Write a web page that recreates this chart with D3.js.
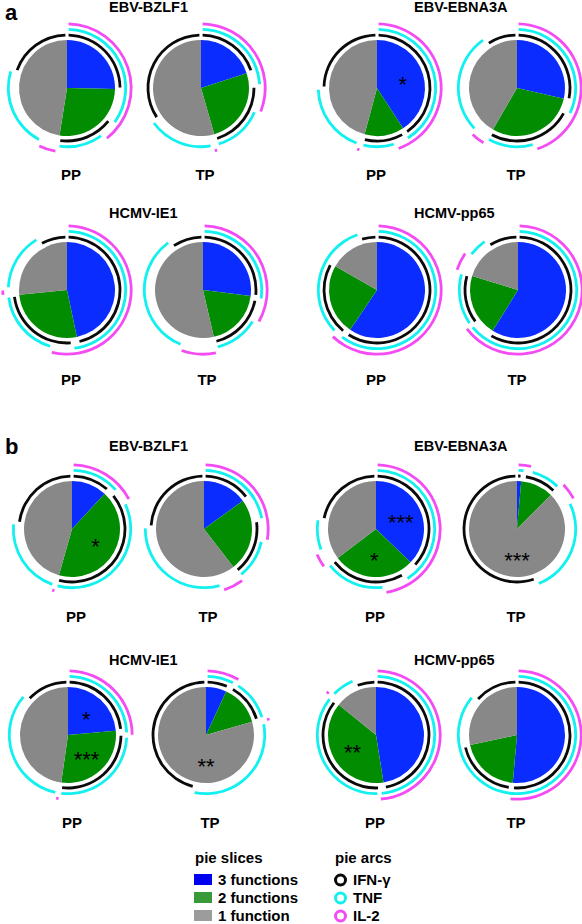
<!DOCTYPE html>
<html><head><meta charset="utf-8">
<script src="https://cdn.jsdelivr.net/npm/d3@7"></script>
<style>body{margin:0;background:#fff} svg{display:block} text{font-family:"Liberation Sans",Arial,sans-serif;font-weight:bold;fill:#000}</style>
</head><body><svg id="c" width="582" height="924"></svg>
<script>
// ---------- data ----------
const panels = ["a", "b"];
const antigens = ["EBV-BZLF1", "EBV-EBNA3A", "HCMV-IE1", "HCMV-pp65"];
const groups = ["PP", "TP"];
const cytokines = ["IFN-γ", "TNF", "IL-2"];
// combinations in pie order (percent of responding cells)
const combos = ["IFN-γ+TNF+IL-2", "TNF+IL-2", "IFN-γ+IL-2", "IFN-γ+TNF", "IL-2", "TNF", "IFN-γ"];
const sliceNames = ["3 functions", "2 functions", "1 function"];

const a_BZLF1_PP  = [25.3, 10.0, 4.4, 12.8, 5.0, 22.5, 20.0];
const a_BZLF1_TP  = [20.0, 4.4, 6.9, 14.2, 1.4, 18.3, 34.7];
const a_EBNA3A_PP = [40.8, 0.8, 3.3, 9.2, 1.1, 19.7, 25.0];
const a_EBNA3A_TP = [28.6, 3.9, 12.8, 13.1, 4.2, 28.1, 9.4];
const a_IE1_PP    = [46.7, 1.7, 5.8, 19.2, 1.9, 16.4, 8.3];
const a_IE1_TP    = [26.9, 0.8, 5.8, 12.8, 9.4, 34.4, 9.7];
const a_pp65_PP   = [59.4, 1.1, 1.9, 20.8, 0.0, 11.7, 5.0];
const a_pp65_TP   = [58.9, 5.6, 0.6, 14.7, 5.3, 5.8, 9.2];
const b_BZLF1_PP  = [11.9, 1.9, 3.9, 36.7, 0.6, 21.7, 23.3];
const b_BZLF1_TP  = [15.0, 7.5, 5.6, 11.4, 5.8, 30.3, 24.4];
const b_EBNA3A_PP = [37.2, 4.2, 6.4, 16.9, 4.2, 8.9, 22.2];
const b_EBNA3A_TP = [1.4, 0.8, 1.7, 8.6, 5.0, 26.9, 55.6];
const b_IE1_PP    = [23.6, 1.1, 0.6, 26.9, 0.8, 33.6, 13.3];
const b_IE1_TP    = [6.9, 1.1, 0.8, 11.7, 1.1, 31.9, 46.4];
const b_pp65_PP   = [47.5, 1.4, 0.3, 36.7, 1.1, 6.9, 6.1];
const b_pp65_TP   = [51.4, 0.6, 0.0, 19.7, 0.0, 14.7, 13.6];

const pieValues = {
  a: [[a_BZLF1_PP, a_BZLF1_TP], [a_EBNA3A_PP, a_EBNA3A_TP], [a_IE1_PP, a_IE1_TP], [a_pp65_PP, a_pp65_TP]],
  b: [[b_BZLF1_PP, b_BZLF1_TP], [b_EBNA3A_PP, b_EBNA3A_TP], [b_IE1_PP, b_IE1_TP], [b_pp65_PP, b_pp65_TP]]
};

// significance marks
const stars = [
  {panel: "a", antigen: "EBV-EBNA3A", group: "PP", slice: "3 functions", text: "*"},
  {panel: "b", antigen: "EBV-BZLF1", group: "PP", slice: "2 functions", text: "*"},
  {panel: "b", antigen: "EBV-EBNA3A", group: "PP", slice: "3 functions", text: "***"},
  {panel: "b", antigen: "EBV-EBNA3A", group: "PP", slice: "2 functions", text: "*"},
  {panel: "b", antigen: "EBV-EBNA3A", group: "TP", slice: "1 function", text: "***"},
  {panel: "b", antigen: "HCMV-IE1", group: "PP", slice: "3 functions", text: "*"},
  {panel: "b", antigen: "HCMV-IE1", group: "PP", slice: "2 functions", text: "***"},
  {panel: "b", antigen: "HCMV-IE1", group: "TP", slice: "1 function", text: "**"},
  {panel: "b", antigen: "HCMV-pp65", group: "PP", slice: "2 functions", text: "**"}
];

// ---------- styles / layout ----------
const sliceColor = d3.scaleOrdinal().domain(sliceNames).range(["#0a2cff", "#028c02", "#888888"]);
const legendSliceColor = d3.scaleOrdinal().domain(sliceNames).range(["#0000f0", "#3a9a3a", "#9c9c9c"]);
const arcColor = d3.scaleOrdinal().domain(cytokines).range(["#0a0a0a", "#12f0f0", "#f44cf4"]);
const ringRadius = d3.scaleOrdinal().domain(cytokines).range([53, 58.7, 64.2]);
const ringWidth = 2.8;
const pieR = 48;
const endPadPx = 1.6;

const layout = {
  a: {pieY: [88, 290], pieX: [[67, 201, 377, 517], [67, 203, 377, 518]], titleY: [12, 218], labelY: [180, 385]},
  b: {pieY: [529, 735], pieX: [[72, 204, 376, 517], [68, 206, 376, 517]], titleY: [451, 665], labelY: [622, 828]}
};
const titleX = [109, 414];
const panelLetterY = {a: 20, b: 454};

const svg = d3.select("#c");
const pieGen = d3.pie().sort(null).value(d => d);

panels.forEach(p => {
  const L = layout[p];
  svg.append("text").attr("x", 5).attr("y", panelLetterY[p]).style("font-size", "22px").text(p);
  antigens.forEach((ag, ai) => {
    const row = Math.floor(ai / 2), col = ai % 2;
    svg.append("text").attr("x", titleX[col]).attr("y", L.titleY[row])
      .style("font-size", "14.5px").text(ag);
    groups.forEach((g, gi) => {
      const vals = pieValues[p][ai][gi];
      const cx = L.pieX[row][col * 2 + gi], cy = L.pieY[row];
      const G = svg.append("g").attr("transform", `translate(${cx},${cy})`);
      // slices
      const sliceVals = [vals[0], d3.sum(vals.slice(1, 4)), d3.sum(vals.slice(4, 7))];
      const sl = pieGen(sliceVals);
      const sliceArc = d3.arc().innerRadius(0).outerRadius(pieR);
      G.selectAll("path.slice").data(sl).enter().append("path")
        .attr("class", "slice").attr("d", sliceArc)
        .attr("fill", (d, i) => sliceColor(sliceNames[i]));
      // arcs
      const ca = pieGen(vals);
      cytokines.forEach(cyt => {
        const runs = [];
        let cur = null;
        ca.forEach((d, i) => {
          const has = combos[i].split("+").includes(cyt);
          if (has && vals[i] > 0) {
            if (cur) cur.end = d.endAngle; else cur = {start: d.startAngle, end: d.endAngle};
          } else if (!has && vals[i] > 0) {
            if (cur) { runs.push(cur); cur = null; }
          }
        });
        if (cur) runs.push(cur);
        const r = ringRadius(cyt);
        const pad = endPadPx / r;
        const arcG = d3.arc().innerRadius(r - ringWidth / 2).outerRadius(r + ringWidth / 2);
        runs.forEach(run => {
          let s = run.start + pad, e = run.end - pad;
          if (e - s < 2.4 / r) { const m = (run.start + run.end) / 2; s = m - 1.2 / r; e = m + 1.2 / r; }
          G.append("path").attr("d", arcG({startAngle: s, endAngle: e})).attr("fill", arcColor(cyt));
        });
      });
      // stars
      stars.filter(s => s.panel === p && s.antigen === ag && s.group === g).forEach(s => {
        const si = sliceNames.indexOf(s.slice);
        const d = sl[si];
        let ang = (d.startAngle + d.endAngle) / 2;
        if (d.endAngle - d.startAngle > Math.PI) ang = Math.PI;
        const rr = 27;
        G.append("text").attr("x", rr * Math.sin(ang)).attr("y", -rr * Math.cos(ang) + 12)
          .attr("text-anchor", "middle").style("font-size", "22px").style("font-weight", "normal")
          .text(s.text);
      });
      // group label
      svg.append("text").attr("x", cx + (col === 0 ? 4 : -1)).attr("y", L.labelY[row])
        .attr("text-anchor", "middle").style("font-size", "15px").text(g);
    });
  });
});

// ---------- legend ----------
const leg = svg.append("g");
leg.append("text").attr("x", 195).attr("y", 863).style("font-size", "15px").text("pie slices");
sliceNames.forEach((n, i) => {
  leg.append("rect").attr("x", 194).attr("y", 874 + i * 18).attr("width", 18).attr("height", 11)
    .attr("fill", legendSliceColor(n));
  leg.append("text").attr("x", 218).attr("y", 885 + i * 18).style("font-size", "15px").text(n);
});
leg.append("text").attr("x", 335).attr("y", 863).style("font-size", "15px").text("pie arcs");
cytokines.forEach((c, i) => {
  leg.append("circle").attr("cx", 340.5).attr("cy", 880 + i * 18).attr("r", 5)
    .attr("fill", "none").attr("stroke", arcColor(c)).attr("stroke-width", 3);
  leg.append("text").attr("x", 353).attr("y", 885 + i * 18).style("font-size", "15px").text(c);
});
</script></body></html>
